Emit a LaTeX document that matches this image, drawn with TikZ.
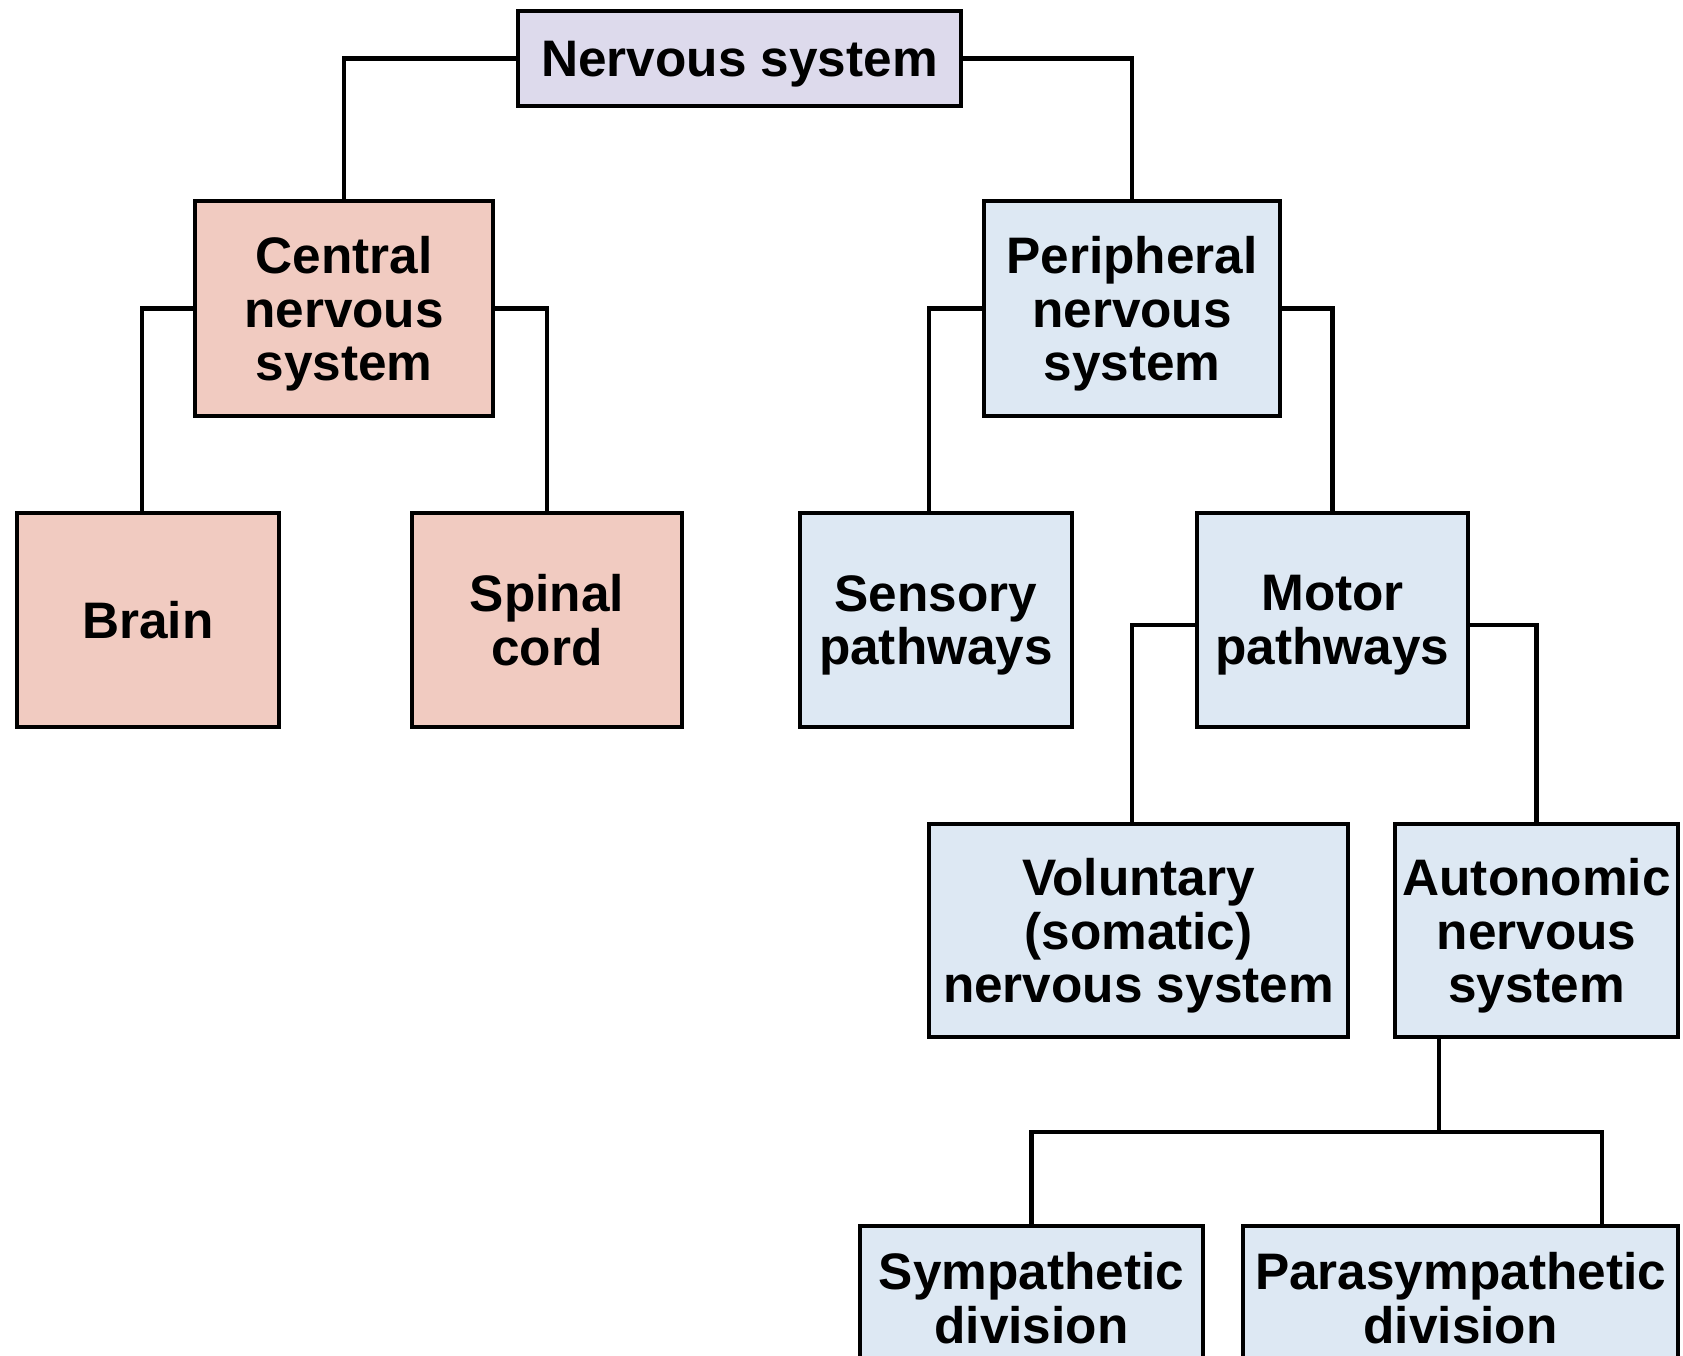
\documentclass[tikz,border=0pt]{standalone}
\usepackage{fontspec}
\setmainfont{Liberation Sans}
\usetikzlibrary{calc}

\definecolor{nslilac}{RGB}{221,218,236}
\definecolor{cnspink}{RGB}{241,203,193}
\definecolor{pnsblue}{RGB}{221,232,243}

\begin{document}
\begin{tikzpicture}[x=0.01cm,y=-0.01cm,
    box/.style={draw,line width=1.2pt,inner sep=0pt,align=center,text depth=0pt,
        font=\fontsize{14.6}{15.3}\selectfont\bfseries},
    cnsbox/.style={box,fill=cnspink},
    pnsbox/.style={box,fill=pnsblue},
    link/.style={line width=1.2pt}]
    \clip (0,0) rectangle (1683,1355);
    \fill[white] (0,0) rectangle (1683,1355);
    \node[box,fill=nslilac,minimum width=4.43cm,minimum height=0.95cm] (ns) at (739.5,58.5) {Nervous system};
    \node[cnsbox,minimum width=2.98cm,minimum height=2.15cm] (cns) at (344,308.5) {Central\\nervous\\system};
    \node[cnsbox,minimum width=2.62cm,minimum height=2.14cm] (brain) at (148,620) {Brain};
    \node[cnsbox,minimum width=2.70cm,minimum height=2.14cm] (spinal) at (547,620) {Spinal\\cord};
    \node[pnsbox,minimum width=2.96cm,minimum height=2.15cm] (pns) at (1132,308.5) {Peripheral\\nervous\\system};
    \node[pnsbox,minimum width=2.72cm,minimum height=2.14cm] (sensory) at (936,620) {Sensory\\pathways};
    \node[pnsbox,minimum width=2.71cm,minimum height=2.14cm] (motor) at (1332.5,620) {Motor\\pathways};
    \node[pnsbox,minimum width=4.19cm,minimum height=2.13cm] (vol) at (1138.5,930.5) {Voluntary\\(somatic)\\nervous system};
    \node[pnsbox,minimum width=2.83cm,minimum height=2.13cm] (auto) at (1536.5,930.5) {Autonomic\\nervous\\system};
    \node[pnsbox,minimum width=3.43cm,minimum height=1.43cm] (symp) at (1031.5,1297.5) {Sympathetic\\division};
    \node[pnsbox,minimum width=4.35cm,minimum height=1.43cm] (para) at (1460.5,1297.5) {Parasympathetic\\division};
    \draw[link] (ns.west) -| (cns.north);
    \draw[link] (ns.east) -| (pns.north);
    \draw[link] (cns.west) -| ([xshift=-0.06cm]brain.north);
    \draw[link] (cns.east) -| (spinal.north);
    \draw[link] (pns.west) -| ([xshift=-0.07cm]sensory.north);
    \draw[link] (pns.east) -| (motor.north);
    \draw[link] ([yshift=-0.05cm]motor.west) -| ([xshift=-0.065cm]vol.north);
    \draw[link] ([yshift=-0.05cm]motor.east) -| (auto.north);
    \draw[link] ([xshift=-0.975cm]auto.south) -- ++(0,93) coordinate (bus);
    \draw[link] (symp.north) |- (bus) -| ([xshift=1.415cm]para.north);
\end{tikzpicture}
\end{document}
